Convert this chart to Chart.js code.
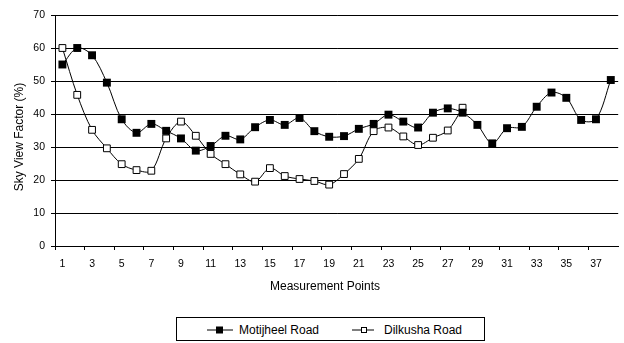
<!DOCTYPE html>
<html>
<head>
<meta charset="utf-8">
<script src="https://cdn.jsdelivr.net/npm/chart.js@4/dist/chart.umd.min.js"></script>
<style>
  html, body { margin: 0; padding: 0; background: #fff; overflow: hidden; }
  #wrap { position: relative; width: 624px; height: 343px; font-family: "Liberation Sans", Arial, sans-serif; }
  #chart { position: absolute; left: 0; top: 0; }
  #legend {
    position: absolute; left: 176px; top: 317px; width: 309px; height: 24px;
    border: 1px solid #000; box-sizing: border-box; background: #fff;
  }
  #legend .item { position: absolute; top: 0; height: 23px; display: flex; align-items: center; font-size: 12px; color: #000; white-space: nowrap; }
  #legend svg { display: block; }
</style>
</head>
<body>
<div id="wrap">
  <canvas id="chart" width="624" height="343"></canvas>
  <div id="legend">
    <div class="item" style="left:30px">
      <svg width="26" height="10" style="margin-right:6px"><line x1="0" y1="5" x2="26" y2="5" stroke="#000" stroke-width="1"/><rect x="9" y="1.5" width="7" height="7" fill="#000"/></svg>
      <span>Motijheel Road</span>
    </div>
    <div class="item" style="left:175px">
      <svg width="22" height="10" style="margin-right:10px"><line x1="0" y1="5" x2="22" y2="5" stroke="#000" stroke-width="1"/><rect x="9.5" y="2.5" width="5" height="5" fill="#fff" stroke="#000" stroke-width="1"/></svg>
      <span>Dilkusha Road</span>
    </div>
  </div>
</div>
<script>
// Measurement points along each road
const points = [1,2,3,4,5,6,7,8,9,10,11,12,13,14,15,16,17,18,19,20,
                21,22,23,24,25,26,27,28,29,30,31,32,33,34,35,36,37,38];

// Sky view factor (%) at each point
const motijheel = [55, 60, 57.8, 49.5, 38.4, 34.3, 37, 34.9, 32.6, 28.9,
                   30.3, 33.4, 32.3, 36, 38.2, 36.7, 38.8, 34.8, 33.1, 33.3,
                   35.5, 37, 39.8, 37.7, 35.9, 40.4, 41.7, 40.4, 36.7, 31.1,
                   35.7, 36.1, 42.2, 46.5, 44.9, 38.2, 38.4, 50.3];
const dilkusha = [60, 45.8, 35.2, 29.6, 24.8, 23, 22.8, 32.6, 37.7, 33.4,
                  27.9, 24.8, 21.7, 19.5, 23.6, 21.2, 20.3, 19.7, 18.6, 21.8,
                  26.4, 34.8, 35.9, 33.2, 30.6, 32.8, 35, 41.9,
                  null, null, null, null, null, null, null, null, null, null];

const yTicks = [0, 10, 20, 30, 40, 50, 60, 70];
const xTitle = 'Measurement Points';
const yTitle = 'Sky View Factor (%)';

const FONT = '"Liberation Sans", Arial, sans-serif';

// Axis titles placed in the chart's own canvas
const axisTitles = {
  id: 'axisTitles',
  afterDraw(chart) {
    const ctx = chart.ctx;
    ctx.save();
    ctx.fillStyle = '#000';
    ctx.font = '12px ' + FONT;
    ctx.textAlign = 'center';
    ctx.textBaseline = 'middle';
    ctx.fillText(xTitle, 325, 287);
    ctx.translate(20, 137);
    ctx.rotate(-Math.PI / 2);
    ctx.fillText(yTitle, 0, 0);
    ctx.restore();
  }
};

new Chart(document.getElementById('chart'), {
  type: 'line',
  data: {
    labels: points,
    datasets: [
      {
        label: 'Motijheel Road',
        data: motijheel,
        borderColor: '#000',
        borderWidth: 1,
        backgroundColor: '#000',
        pointStyle: 'rect',
        pointRadius: 5.6,
        pointBorderWidth: 0,
        pointBackgroundColor: '#000',
        tension: 0.33,
        clip: false
      },
      {
        label: 'Dilkusha Road',
        data: dilkusha,
        borderColor: '#000',
        borderWidth: 1,
        backgroundColor: '#fff',
        pointStyle: 'rect',
        pointRadius: 4.8,
        pointBorderWidth: 1,
        pointBorderColor: '#000',
        pointBackgroundColor: '#fff',
        tension: 0.33,
        clip: false
      }
    ]
  },
  options: {
    responsive: false,
    animation: false,
    devicePixelRatio: 1,
    layout: { padding: { top: 15, left: 0, right: 0, bottom: 48 } },
    plugins: {
      legend: { display: false },
      tooltip: { enabled: false }
    },
    scales: {
      x: {
        type: 'category',
        offset: true,
        afterFit(scale) { scale.height = 49; },
        grid: {
          offset: true,
          drawOnChartArea: false,
          drawTicks: true,
          tickLength: 4,
          tickColor: (c) => (c.index % 2 === 0 ? '#000' : 'rgba(0,0,0,0)')
        },
        border: { color: '#000', width: 1 },
        ticks: {
          autoSkip: false,
          maxRotation: 0,
          padding: 8,
          color: '#000',
          font: { family: FONT, size: 10.5 },
          callback: (v, i) => (i % 2 === 0 ? String(points[i]) : '')
        }
      },
      y: {
        min: 0,
        max: 70,
        afterFit(scale) { scale.width = 55; },
        afterBuildTicks(scale) { scale.ticks = yTicks.map(v => ({ value: v })); },
        grid: {
          color: '#000',
          lineWidth: 1,
          tickLength: 4,
          tickColor: '#000'
        },
        border: { color: '#000', width: 1 },
        ticks: {
          padding: 6,
          color: '#000',
          font: { family: FONT, size: 10.5 }
        }
      }
    }
  },
  plugins: [axisTitles]
});
</script>
</body>
</html>
